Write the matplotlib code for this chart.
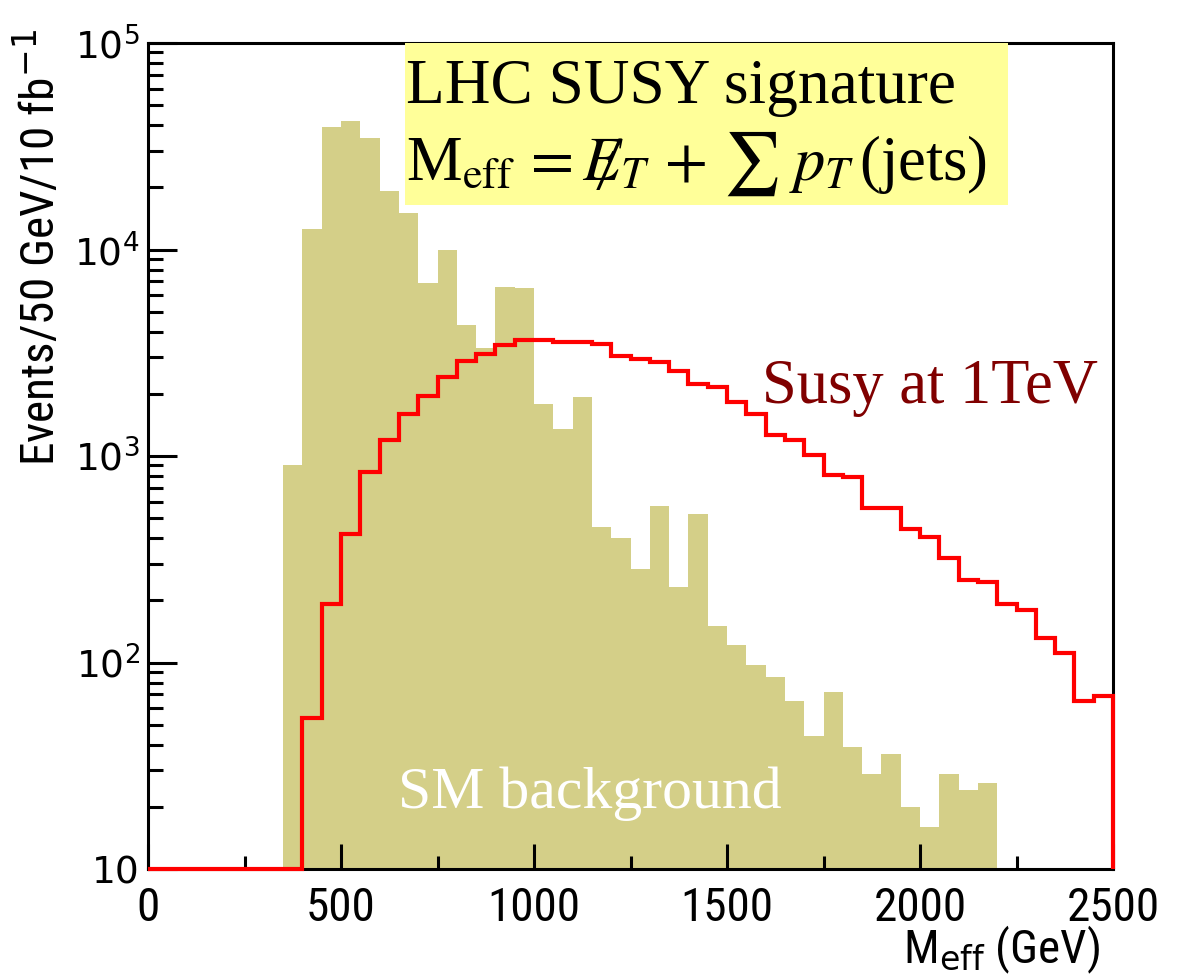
import numpy as np
import matplotlib
matplotlib.use('Agg')
import matplotlib.pyplot as plt
from matplotlib.patches import Rectangle
from matplotlib.ticker import FixedLocator, MultipleLocator, LogLocator, NullFormatter

# SM background histogram (50 GeV bins, first bin starts at 350 GeV)
bkg_low = 350
bkg_values = [900, 12500, 39000, 41700, 34800, 19300, 15100, 6900, 10000, 4300,
              3350, 6600, 6500, 1780, 1350, 1930, 454, 401, 283, 570,
              232, 523, 150, 122, 97, 85, 65, 44, 72, 39,
              29, 36, 20, 16, 29, 24, 26]

# SUSY signal at 1 TeV (50 GeV bins from 0 to 2500, 10 = axis floor)
susy_low = 0
susy_values = [10, 10, 10, 10, 10, 10, 10, 10,
               54, 193, 418, 834, 1190, 1600, 1960, 2410, 2880, 3130,
               3430, 3630, 3630, 3560, 3560, 3470, 3050, 2960, 2850, 2580,
               2240, 2160, 1820, 1600, 1260, 1190, 1015, 808, 788, 559,
               559, 442, 406, 322, 250, 246, 193, 179, 131, 111,
               65, 69]
bin_width = 50

xticks = [0, 500, 1000, 1500, 2000, 2500]
ytick_vals = [10, 100, 1000, 10000, 100000]
ytick_labels = ['10', r'$10^{2}$', r'$10^{3}$', r'$10^{4}$', r'$10^{5}$']

bkg_edges = bkg_low + bin_width * np.arange(len(bkg_values) + 1)
susy_edges = susy_low + bin_width * np.arange(len(susy_values) + 1)

narrow = ['Roboto Condensed', 'DejaVu Sans']
serif = ['Liberation Serif', 'DejaVu Serif']

fig = plt.figure(figsize=(11.77, 9.77), dpi=100)
ax = fig.add_axes([148/1177, 1 - 869/977, (1113-148)/1177, (869-43)/977])

ax.stairs(bkg_values, bkg_edges, fill=True, baseline=10, color='#d4cf88', zorder=1)
ax.stairs(susy_values, susy_edges, baseline=10, color='#ff0000', linewidth=3,
          clip_on=False, zorder=3)

ax.set_yscale('log')
ax.set_xlim(0, 2500)
ax.set_ylim(10, 1e5)

for s in ax.spines.values():
    s.set_linewidth(2.2)

ax.xaxis.set_major_locator(FixedLocator(xticks))
ax.xaxis.set_minor_locator(MultipleLocator(250))
ax.yaxis.set_major_locator(FixedLocator(ytick_vals))
ax.set_yticklabels(ytick_labels, family='DejaVu Sans', fontsize=27,
                   math_fontfamily='dejavusans')
ax.yaxis.set_minor_locator(LogLocator(base=10, subs=np.arange(2, 10)))
ax.yaxis.set_minor_formatter(NullFormatter())
ax.set_xticklabels([str(v) for v in xticks], family=narrow, fontsize=34)

ax.tick_params(axis='x', which='major', direction='in', length=18, width=2.2, pad=12)
ax.tick_params(axis='x', which='minor', direction='in', length=9.5, width=2.2)
ax.tick_params(axis='y', which='major', direction='in', length=21, width=2.2, pad=6)
ax.tick_params(axis='y', which='minor', direction='in', length=11, width=2.2)

ax.set_ylabel(r'Events/50 GeV/10 fb$^{-1}$', family=narrow, fontsize=34,
              va='center', ha='center')
ax.yaxis.set_label_coords(-0.114, 0.752)
ax.set_xlabel(r'M$_{\rm eff}$ (GeV)', family=narrow, fontsize=34,
              ha='right', va='center')
ax.xaxis.set_label_coords(0.987, -0.098)

# yellow label box
box = Rectangle((0.2663, 0.804), 0.6245, 0.196, transform=ax.transAxes,
                facecolor='#ffff99', edgecolor='none', clip_on=False, zorder=4)
ax.add_patch(box)
ax.text(0.267, 0.927, 'LHC SUSY signature', transform=ax.transAxes,
        family=serif, fontsize=45.5, color='black', va='baseline', zorder=5)
ax.text(0.267, 0.834,
        r'M$_{\rm eff}$$\,=\;\;\;\not\!\!\!\!\!E_T\,+\,\sum\;p_T\,$(jets)',
        transform=ax.transAxes, family=serif, fontsize=45, color='black',
        va='baseline', math_fontfamily='stix', zorder=5)

ax.text(0.636, 0.564, 'Susy at 1TeV', transform=ax.transAxes,
        family=serif, fontsize=45, color='#800000', va='baseline', zorder=5)
ax.text(0.259, 0.074, 'SM background', transform=ax.transAxes,
        family=serif, fontsize=43, color='white', va='baseline', zorder=5)

fig.savefig('out.png', dpi=100)
